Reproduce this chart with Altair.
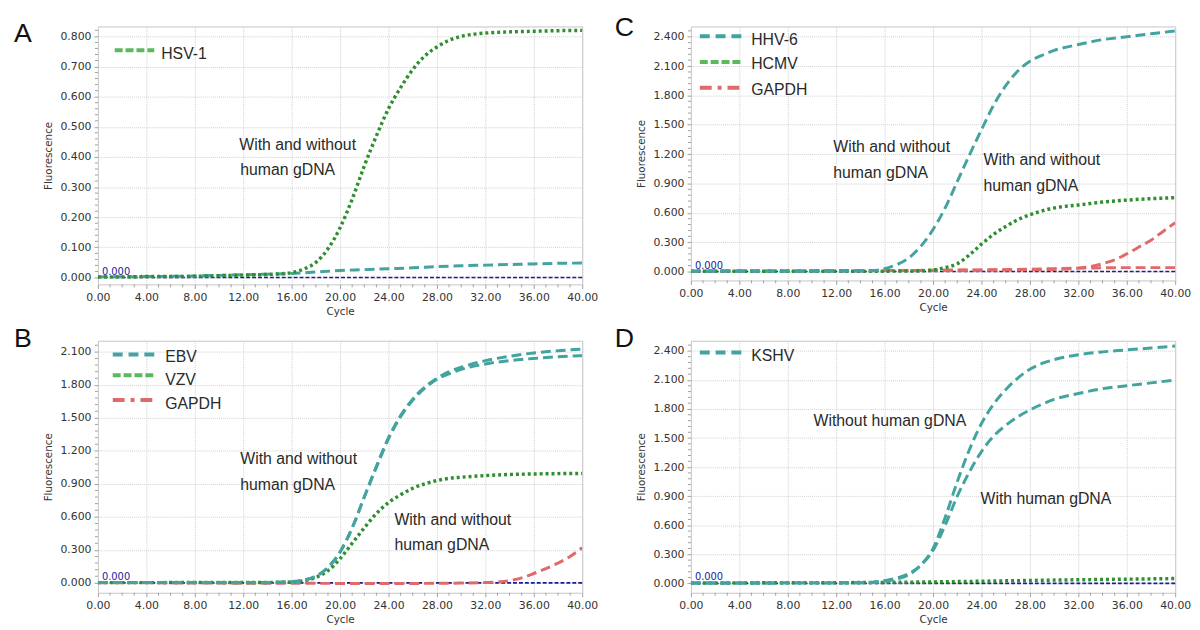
import altair as alt
import pandas as pd
import numpy as np

# ---------------- data ----------------
# Panel A
A_hsv1_cyc = [0, 2, 4, 6, 8, 10, 12, 14, 15, 16, 17, 18, 19, 20, 21, 22, 23, 24, 25, 26, 27, 28, 29, 30, 31, 32, 34, 36, 38, 40]
A_hsv1_val = [0.002, 0.002, 0.003, 0.003, 0.004, 0.006, 0.008, 0.010, 0.012, 0.016, 0.028, 0.05, 0.095, 0.165, 0.26, 0.37, 0.47, 0.56, 0.63, 0.69, 0.735, 0.765, 0.787, 0.80, 0.807, 0.811, 0.815, 0.817, 0.819, 0.82]
A_teal_cyc = [0, 4, 8, 10, 12, 14, 16, 18, 20, 22, 24, 26, 28, 30, 32, 34, 36, 38, 40]
A_teal_val = [0.002, 0.003, 0.005, 0.007, 0.009, 0.011, 0.013, 0.018, 0.023, 0.026, 0.029, 0.032, 0.036, 0.039, 0.041, 0.043, 0.045, 0.047, 0.048]

# Panel B
B_cyc = [0, 4, 8, 12, 14, 15, 16, 17, 18, 19, 20, 21, 22, 23, 24, 25, 26, 27, 28, 29, 30, 32, 34, 36, 38, 40]
B_ebv1 = [0.002, 0.002, 0.003, 0.003, 0.004, 0.006, 0.011, 0.025, 0.06, 0.14, 0.28, 0.5, 0.78, 1.06, 1.32, 1.52, 1.67, 1.78, 1.86, 1.92, 1.96, 2.02, 2.06, 2.09, 2.11, 2.125]
B_ebv2 = [0.002, 0.002, 0.003, 0.003, 0.004, 0.006, 0.011, 0.025, 0.06, 0.14, 0.28, 0.5, 0.78, 1.05, 1.31, 1.51, 1.66, 1.77, 1.85, 1.90, 1.94, 1.99, 2.02, 2.04, 2.055, 2.065]
B_vzv = [0.002, 0.002, 0.003, 0.003, 0.004, 0.005, 0.008, 0.02, 0.05, 0.11, 0.22, 0.36, 0.5, 0.63, 0.73, 0.8, 0.86, 0.9, 0.93, 0.95, 0.96, 0.975, 0.985, 0.99, 0.993, 0.995]
B_gapdh_cyc = [0, 4, 8, 12, 16, 20, 24, 28, 30, 32, 33, 34, 35, 36, 37, 38, 39, 40]
B_gapdh_val = [0.0, 0.0, -0.002, -0.003, -0.004, -0.005, -0.006, -0.004, -0.002, 0.003, 0.008, 0.02, 0.045, 0.085, 0.13, 0.18, 0.24, 0.32]

# Panel C
C_hhv6_cyc = [0, 4, 8, 12, 14, 15, 16, 17, 18, 19, 20, 21, 22, 23, 24, 25, 26, 27, 28, 29, 30, 32, 34, 36, 38, 40]
C_hhv6_val = [0.003, 0.003, 0.003, 0.004, 0.005, 0.008, 0.03, 0.07, 0.14, 0.26, 0.43, 0.65, 0.92, 1.19, 1.45, 1.70, 1.90, 2.05, 2.15, 2.21, 2.26, 2.32, 2.37, 2.40, 2.43, 2.46]
C_hcmv_cyc = [0, 4, 8, 12, 16, 18, 19, 20, 21, 22, 23, 24, 25, 26, 27, 28, 29, 30, 32, 34, 36, 38, 40]
C_hcmv_val = [0.002, 0.002, 0.003, 0.003, 0.004, 0.005, 0.008, 0.015, 0.04, 0.08, 0.17, 0.28, 0.38, 0.46, 0.53, 0.58, 0.62, 0.65, 0.68, 0.71, 0.73, 0.745, 0.755]
C_gapdh1_cyc = [0, 4, 8, 12, 16, 20, 24, 28, 30, 31, 32, 33, 34, 35, 36, 37, 38, 39, 40]
C_gapdh1_val = [0.004, 0.005, 0.006, 0.008, 0.010, 0.012, 0.014, 0.018, 0.022, 0.026, 0.035, 0.05, 0.08, 0.12, 0.18, 0.25, 0.32, 0.41, 0.50]
C_gapdh2_cyc = [0, 4, 8, 12, 16, 20, 24, 28, 30, 32, 34, 36, 38, 40]
C_gapdh2_val = [0.004, 0.005, 0.006, 0.008, 0.010, 0.013, 0.017, 0.024, 0.030, 0.035, 0.038, 0.040, 0.040, 0.040]

# Panel D
D_cyc = [0, 4, 8, 12, 14, 15, 16, 17, 18, 19, 20, 21, 22, 23, 24, 25, 26, 27, 28, 29, 30, 32, 34, 36, 38, 40]
D_without = [0.004, 0.004, 0.005, 0.005, 0.006, 0.01, 0.022, 0.045, 0.09, 0.19, 0.36, 0.68, 1.05, 1.38, 1.65, 1.85, 2.00, 2.12, 2.21, 2.27, 2.31, 2.36, 2.39, 2.41, 2.43, 2.45]
D_with = [0.004, 0.004, 0.005, 0.005, 0.007, 0.012, 0.028, 0.055, 0.10, 0.19, 0.34, 0.60, 0.90, 1.15, 1.36, 1.52, 1.63, 1.72, 1.79, 1.85, 1.90, 1.96, 2.01, 2.04, 2.07, 2.10]
D_green_cyc = [0, 4, 8, 12, 16, 20, 24, 28, 32, 36, 40]
D_green_val = [0.004, 0.005, 0.006, 0.007, 0.010, 0.015, 0.022, 0.030, 0.037, 0.043, 0.050]

THRESHOLD = 0.0
x_ticks = [0, 4, 8, 12, 16, 20, 24, 28, 32, 36, 40]
A_yticks = [0.0, 0.1, 0.2, 0.3, 0.4, 0.5, 0.6, 0.7, 0.8]
big_yticks = [0.0, 0.3, 0.6, 0.9, 1.2, 1.5, 1.8, 2.1, 2.4]

# ---------------- styles ----------------
TEAL = "#42a39f"
GREEN = "#2f8f2f"
GREEN_LEG = "#5cb85c"
RED = "#e06a6a"
NAVY = "#1a1a9c"
TXT = "#2a2a2a"
TEAL_DASH = [10, 5]
GREEN_DOT = [3, 3]
RED_DASH = [10, 5]
RED_DASHDOT = [12, 6, 4, 6]
AX_FONT = "DejaVu Sans"
ANN_FONT = "Liberation Sans"

ONE = pd.DataFrame({"k": [1]})


def make_xy(ydom, yvals):
    X = alt.X("cycle:Q",
              scale=alt.Scale(domain=[0, 40], nice=False, zero=False),
              axis=alt.Axis(values=x_ticks, format=".2f", title="Cycle"))
    Y = alt.Y("f:Q",
              scale=alt.Scale(domain=ydom, nice=False, zero=False),
              axis=alt.Axis(values=yvals, format=".3f", title="Fluorescence"))
    return X, Y


def curve(cyc, val, color, dash, X, Y, width=3):
    df = pd.DataFrame({"cycle": cyc, "f": val})
    return alt.Chart(df).mark_line(color=color, strokeDash=dash, strokeWidth=width,
                                   interpolate="monotone", clip=True).encode(x=X, y=Y)


def txt(s, x, y, size=16, color=TXT, font=ANN_FONT, baseline="middle"):
    return alt.Chart(ONE).mark_text(align="left", baseline=baseline, fontSize=size,
                                    font=font, color=color).encode(
        x=alt.value(x), y=alt.value(y), text=alt.value(s))


def leg_line(x1, x2, y, color, dash):
    return alt.Chart(ONE).mark_rule(color=color, strokeDash=dash, strokeWidth=4).encode(
        x=alt.value(x1), x2=alt.value(x2), y=alt.value(y))


def common(X, Y, ytop, height, ystep):
    xm = pd.DataFrame({"cycle": [c for c in range(41) if c % 4]})
    xminor = alt.Chart(xm).mark_rule(color="#a0a0a0").encode(
        x=X, y=alt.value(height), y2=alt.value(height + 3))
    ym_vals = []
    k = 1
    while k * ystep < ytop:
        if k % 5:
            ym_vals.append(round(k * ystep, 4))
        k += 1
    ymdf = pd.DataFrame({"f": ym_vals})
    yminor = alt.Chart(ymdf).mark_rule(color="#a0a0a0").encode(
        y=Y, x=alt.value(-3), x2=alt.value(0))
    thr = alt.Chart(pd.DataFrame({"f": [THRESHOLD]})).mark_rule(
        color=NAVY, strokeDash=[4, 2], strokeWidth=1.6).encode(y=Y)
    thr_lbl = alt.Chart(pd.DataFrame({"f": [THRESHOLD]})).mark_text(
        align="left", baseline="bottom", dx=4, dy=-1, fontSize=10, font=AX_FONT,
        color=NAVY).encode(y=Y, x=alt.value(0), text=alt.value("0.000"))
    return [xminor, yminor, thr, thr_lbl]


# ---------------- Panel A ----------------
domA = [-0.023, 0.833]
XA, YA = make_xy(domA, A_yticks)
hA = 261
panelA = alt.layer(
    *common(XA, YA, domA[1], hA, 0.02),
    curve(A_teal_cyc, A_teal_val, TEAL, TEAL_DASH, XA, YA),
    curve(A_hsv1_cyc, A_hsv1_val, GREEN, GREEN_DOT, XA, YA, 3.5),
    leg_line(17, 57, 24, GREEN_LEG, [8, 3]),
    txt("HSV-1", 64, 28),
    txt("With and without", 143, 120),
    txt("human gDNA", 144, 145),
    txt("A", -85, 16, size=27, color="#111", baseline="alphabetic"),
).properties(width=490, height=hA)

# ---------------- Panel C ----------------
domC = [-0.091, 2.505]
XC, YC = make_xy(domC, big_yticks)
hC = 257
panelC = alt.layer(
    *common(XC, YC, domC[1], hC, 0.06),
    curve(C_gapdh2_cyc, C_gapdh2_val, RED, RED_DASH, XC, YC),
    curve(C_gapdh1_cyc, C_gapdh1_val, RED, RED_DASH, XC, YC),
    curve(C_hcmv_cyc, C_hcmv_val, GREEN, GREEN_DOT, XC, YC, 3.5),
    curve(C_hhv6_cyc, C_hhv6_val, TEAL, TEAL_DASH, XC, YC),
    leg_line(9, 53, 10, TEAL, [10, 6]),
    leg_line(9, 53, 36, GREEN_LEG, [8, 3]),
    leg_line(9, 53, 62, RED, RED_DASHDOT),
    txt("HHV-6", 61, 14),
    txt("HCMV", 61, 38),
    txt("GAPDH", 61, 64),
    txt("With and without", 144, 122),
    txt("human gDNA", 144, 148),
    txt("With and without", 296, 135),
    txt("human gDNA", 296, 161),
    txt("C", -77, 10, size=27, color="#111", baseline="alphabetic"),
).properties(width=490, height=hC)

# ---------------- Panel B ----------------
domB = [-0.09, 2.201]
XB, YB = make_xy(domB, big_yticks[:8])
hB = 255
panelB = alt.layer(
    *common(XB, YB, domB[1], hB, 0.06),
    curve(B_gapdh_cyc, B_gapdh_val, RED, RED_DASH, XB, YB),
    curve(B_cyc, B_vzv, GREEN, GREEN_DOT, XB, YB, 3.5),
    curve(B_cyc, B_ebv2, TEAL, TEAL_DASH, XB, YB),
    curve(B_cyc, B_ebv1, TEAL, TEAL_DASH, XB, YB),
    leg_line(15, 59, 14, TEAL, [10, 6]),
    leg_line(15, 59, 35, GREEN_LEG, [8, 3]),
    leg_line(15, 59, 60, RED, RED_DASHDOT),
    txt("EBV", 68, 17),
    txt("VZV", 68, 40),
    txt("GAPDH", 68, 64),
    txt("With and without", 144, 120),
    txt("human gDNA", 144, 146),
    txt("With and without", 300, 181),
    txt("human gDNA", 300, 207),
    txt("B", -85, 6, size=27, color="#111", baseline="alphabetic"),
).properties(width=490, height=hB)

# ---------------- Panel D ----------------
domD = [-0.097, 2.505]
XD, YD = make_xy(domD, big_yticks)
hD = 255
panelD = alt.layer(
    *common(XD, YD, domD[1], hD, 0.06),
    curve(D_green_cyc, D_green_val, GREEN, GREEN_DOT, XD, YD, 3.5),
    curve(D_cyc, D_with, TEAL, TEAL_DASH, XD, YD),
    curve(D_cyc, D_without, TEAL, TEAL_DASH, XD, YD),
    leg_line(9, 53, 12, TEAL, [10, 6]),
    txt("KSHV", 61, 15),
    txt("Without human gDNA", 124, 81),
    txt("With human gDNA", 293, 160),
    txt("D", -77, 6, size=27, color="#111", baseline="alphabetic"),
).properties(width=490, height=hD)

chart = alt.concat(
    panelA, panelC, panelB, panelD,
    columns=2, spacing={"row": 57, "column": 110}, bounds="flush",
).properties(
    padding={"left": 5, "top": 2, "right": 0, "bottom": 0},
    background="white",
).configure_view(
    stroke="#c4c4c4", strokeWidth=1
).configure_axis(
    domain=False,
    grid=True, gridColor="#cfcfcf", gridDash=[1, 1], gridWidth=1,
    tickSize=4, tickColor="#a0a0a0",
    labelFont=AX_FONT, labelFontSize=11, labelColor="#333333",
    labelOverlap=False, labelFlush=False, labelPadding=3,
    titleFont=AX_FONT, titleFontSize=10.5, titleFontWeight="normal", titleColor="#333333",
).configure_axisX(
    titlePadding=4
).configure_axisY(
    titlePadding=6
)

chart.save("out.html", embed_options={"renderer": "svg", "actions": False})
